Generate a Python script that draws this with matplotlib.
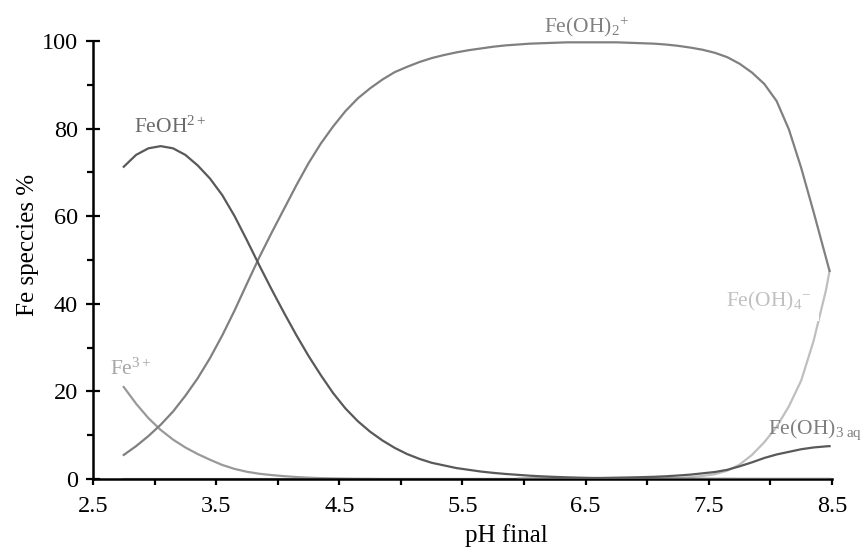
import matplotlib
matplotlib.use("Agg")
import matplotlib.pyplot as plt
from matplotlib.ticker import MultipleLocator

plt.rcParams['font.family'] = ['Liberation Serif', 'DejaVu Serif']
plt.rcParams['mathtext.fontset'] = 'custom'
plt.rcParams['mathtext.rm'] = 'Liberation Serif'
plt.rcParams['mathtext.it'] = 'Liberation Serif:italic'
plt.rcParams['mathtext.bf'] = 'Liberation Serif:bold'

# pH values
ph = [2.75, 2.85, 2.95, 3.05, 3.15, 3.25, 3.35, 3.45, 3.55, 3.65, 3.75, 3.85,
      3.95, 4.05, 4.15, 4.25, 4.35, 4.45, 4.55, 4.65, 4.75, 4.85, 4.95, 5.05,
      5.15, 5.25, 5.35, 5.45, 5.55, 5.65, 5.75, 5.85, 5.95, 6.05, 6.15, 6.25,
      6.35, 6.45, 6.55, 6.65, 6.75, 6.85, 6.95, 7.05, 7.15, 7.25, 7.35, 7.45,
      7.55, 7.65, 7.75, 7.85, 7.95, 8.05, 8.15, 8.25, 8.35, 8.45, 8.48]

# species percentages (Fe3+, FeOH2+, Fe(OH)2+, Fe(OH)4-, Fe(OH)3 aq)
fe3 = [21.0, 17.2, 13.9, 11.2, 9.0, 7.2, 5.7, 4.4, 3.2, 2.3, 1.65, 1.2,
       0.9, 0.65, 0.45, 0.3, 0.2, 0.13, 0.08, 0.05, 0.03, 0, 0, 0,
       0, 0, 0, 0, 0, 0, 0, 0, 0, 0, 0, 0,
       0, 0, 0, 0, 0, 0, 0, 0, 0, 0, 0, 0,
       0, 0, 0, 0, 0, 0, 0, 0, 0, 0, 0]
feoh = [71.3, 74.0, 75.5, 76.0, 75.5, 74.0, 71.6, 68.6, 64.8, 60.0, 54.5, 48.8,
        43.3, 38.0, 32.9, 28.1, 23.7, 19.6, 16.1, 13.2, 10.8, 8.8, 7.1, 5.7,
        4.6, 3.7, 3.1, 2.5, 2.1, 1.7, 1.4, 1.15, 0.95, 0.75, 0.6, 0.48,
        0.38, 0.3, 0.24, 0.19, 0.15, 0.12, 0.1, 0.08, 0.06, 0.05, 0.04, 0.03,
        0.02, 0.02, 0.01, 0.01, 0, 0, 0, 0, 0, 0, 0]
feoh2 = [5.5, 7.5, 9.8, 12.4, 15.4, 19.0, 23.0, 27.6, 32.8, 38.5, 44.6, 50.6,
         56.2, 61.6, 67.0, 72.1, 76.6, 80.5, 84.0, 86.9, 89.2, 91.2, 92.9, 94.1,
         95.2, 96.1, 96.8, 97.4, 97.9, 98.3, 98.7, 99.0, 99.2, 99.4, 99.5, 99.6,
         99.7, 99.7, 99.7, 99.7, 99.7, 99.6, 99.5, 99.4, 99.2, 98.9, 98.5, 98.0,
         97.3, 96.3, 94.8, 92.8, 90.2, 86.3, 79.8, 71.0, 61.0, 50.6, 47.5]
feoh4 = [0, 0, 0, 0, 0, 0, 0, 0, 0, 0, 0, 0,
         0, 0, 0, 0, 0, 0, 0, 0, 0, 0, 0, 0,
         0, 0, 0, 0, 0, 0, 0, 0, 0, 0, 0, 0,
         0, 0, 0, 0, 0.03, 0.05, 0.08, 0.12, 0.18, 0.27, 0.42, 0.7,
         1.1, 1.9, 3.3, 5.5, 8.4, 11.9, 16.6, 22.5, 31.5, 43.0, 47.5]
feoh3 = [None] * 32 + [0.05, 0.07, 0.08, 0.1, 0.13, 0.16, 0.2, 0.25, 0.3, 0.35,
                       0.42, 0.5, 0.62, 0.8, 1.0, 1.3, 1.6, 2.1, 2.9, 3.8, 4.8,
                       5.6, 6.2, 6.8, 7.2, 7.45, 7.5]

fig = plt.figure(figsize=(8.64, 5.49), dpi=100)
ax = fig.add_axes([0.1076, 0.1275, 0.8554, 0.7978])

lw = 1.6
ax.plot(ph, fe3, color='#999999', lw=lw, zorder=2)
ax.plot(ph, feoh4, color='#bfbfbf', lw=lw, zorder=2)
ax.plot(ph, feoh2, color='#808080', lw=lw, zorder=3)
ax.plot(ph, feoh, color='#595959', lw=lw, zorder=3)
ph3 = [p for p, v in zip(ph, feoh3) if v is not None]
v3 = [v for v in feoh3 if v is not None]
ax.plot(ph3, v3, color='#595959', lw=lw, zorder=3)

fs = 15.5
ax.text(2.83, 80.3, 'FeOH$^{\\mathregular{2+}}$', color='#6a6a6a', fontsize=fs,
        va='center', ha='left')
ax.text(6.16, 103.3, 'Fe(OH)$_{\\mathregular{2}}$$^{\\mathregular{+}}$',
        color='#808080', fontsize=fs, va='center', ha='left', clip_on=False)
ax.text(2.64, 25.0, 'Fe$^{\\mathregular{3+}}$', color='#a6a6a6', fontsize=fs,
        va='center', ha='left')
# label box hides part of the Fe(OH)4- curve, as in the original
ax.text(7.64, 40.6, 'Fe(OH)$_{\\mathregular{4}}$$^{\\mathregular{-}}\\ \\ $',
        color='#c0c0c0', fontsize=fs, va='center', ha='left', zorder=5,
        bbox=dict(facecolor='white', edgecolor='none', pad=6))
ax.text(7.98, 11.2, 'Fe(OH)$_{\\mathregular{3\\ aq}}$', color='#7f7f7f',
        fontsize=fs, va='center', ha='left', zorder=5, clip_on=False)

ax.set_xlim(2.5, 8.5)
ax.set_ylim(0, 100)
ax.xaxis.set_major_locator(MultipleLocator(1.0, offset=0.5))
ax.xaxis.set_minor_locator(MultipleLocator(0.5))
ax.yaxis.set_major_locator(MultipleLocator(20))
ax.yaxis.set_minor_locator(MultipleLocator(10))

for s in ['top', 'right']:
    ax.spines[s].set_visible(False)
for s in ['left', 'bottom']:
    ax.spines[s].set_linewidth(1.8)

tfs = 17.5
ax.tick_params(axis='y', which='major', direction='inout', length=9.5,
               width=1.6, labelsize=tfs, pad=6)
ax.tick_params(axis='y', which='minor', direction='out', length=4.5, width=1.6)
ax.tick_params(axis='x', which='both', direction='out', length=4, width=1.6,
               labelsize=tfs, pad=8)

ax.set_xlabel('pH final', fontsize=18, va='center')
ax.xaxis.set_label_coords(0.559, -0.13)
ax.set_ylabel('Fe speccies %', fontsize=18, va='center')
ax.yaxis.set_label_coords(-0.088, 0.534)

fig.savefig('out.png', dpi=100)
